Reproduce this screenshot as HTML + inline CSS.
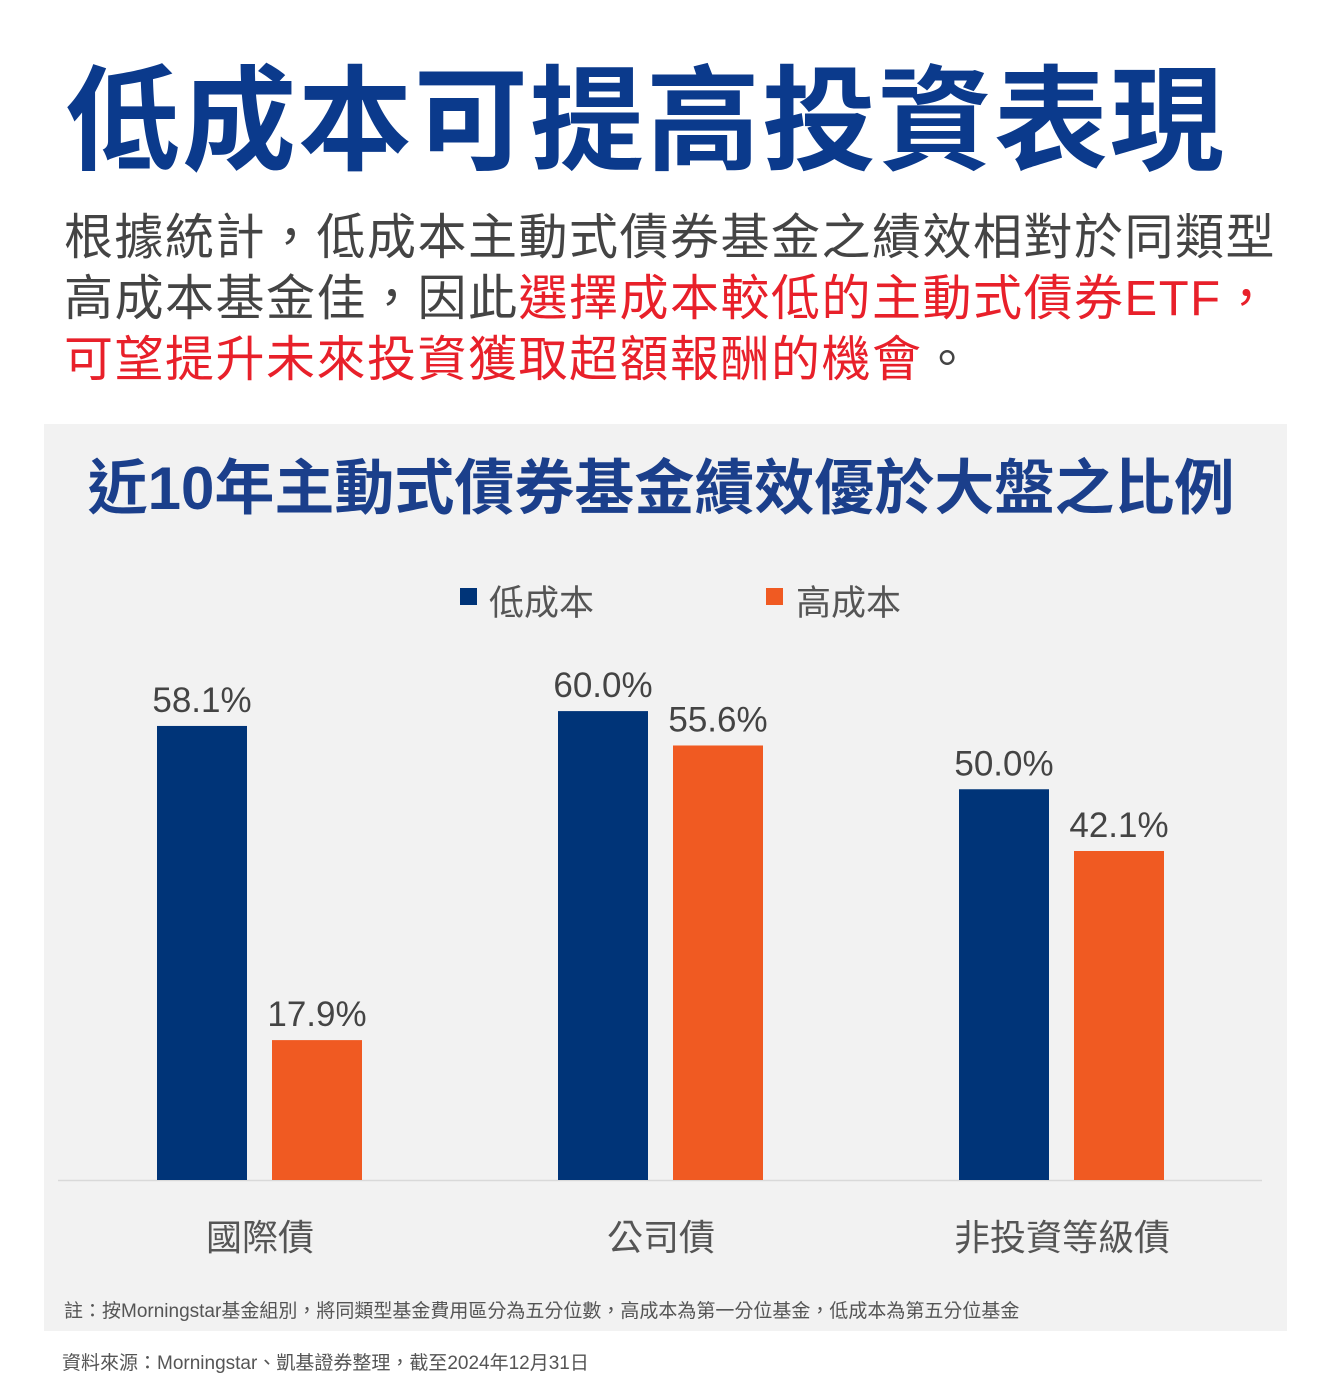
<!DOCTYPE html>
<html><head><meta charset="utf-8"><style>
html,body{margin:0;padding:0;background:#fff;width:1331px;height:1393px;overflow:hidden;font-family:"Liberation Sans","Noto Sans CJK TC",sans-serif}
.abs{position:absolute;white-space:nowrap}
</style></head><body>
<div class="abs" style="left:66px;top:58px;font-size:114px;font-weight:bold;color:#0b3a8c;letter-spacing:2px;line-height:130px">低成本可提高投資表現</div>
<div class="abs" style="left:64px;top:208px;font-size:49px;color:#444;line-height:61px;letter-spacing:1.5px">根據統計，低成本主動式債券基金之績效相對於同類型<br>高成本基金佳，因此<span style="color:#e8202a">選擇成本較低的主動式債券ETF，</span><br><span style="color:#e8202a">可望提升未來投資獲取超額報酬的機會</span>。</div>
<svg class="abs" style="left:0;top:0" width="1331" height="1393">
<rect x="44" y="424" width="1243" height="907" fill="#f2f2f2"/>
<text x="661" y="509" text-anchor="middle" font-size="60" font-weight="bold" fill="#1b3f8b">近10年主動式債券基金績效優於大盤之比例</text>
<rect x="460" y="588" width="17" height="17" fill="#003478"/>
<text x="489" y="615" font-size="35" fill="#555">低成本</text>
<rect x="766" y="588" width="17" height="17" fill="#f05a22"/>
<text x="796" y="615" font-size="35" fill="#555">高成本</text>
<line x1="58" y1="1180.5" x2="1262" y2="1180.5" stroke="#d9d9d9" stroke-width="1.5"/>
<g id="bars"></g>
<text x="64" y="1317" font-size="19" fill="#555">註：按Morningstar基金組別，將同類型基金費用區分為五分位數，高成本為第一分位基金，低成本為第五分位基金</text>
<text x="62" y="1369" font-size="19" fill="#555">資料來源：Morningstar、凱基證券整理，截至2024年12月31日</text>
</svg>
<script>
const categories=["國際債","公司債","非投資等級債"];
const lowCost=[58.1,60.0,50.0];
const highCost=[17.9,55.6,42.1];
const NS="http://www.w3.org/2000/svg";
const g=document.getElementById("bars");
const base=1180, pxPer=7.815;
function y(v){return base-v*pxPer;}
function cx(i){return 260+i*401;}
function mk(tag,attrs){const e=document.createElementNS(NS,tag);for(const k in attrs)e.setAttribute(k,attrs[k]);g.appendChild(e);return e;}
categories.forEach((c,i)=>{
  [[lowCost[i],-103,"#003478","low"],[highCost[i],12,"#f05a22","high"]].forEach(([v,off,col,s])=>{
    const r=mk("rect",{x:cx(i)+off,y:y(v),width:90,height:v*pxPer,fill:col});
    
    
    const t=mk("text",{x:cx(i)+off+45,y:y(v)-14,"text-anchor":"middle","font-size":35,fill:"#444"});
    t.textContent=v.toFixed(1)+"%";
    
    
  });
  const l=mk("text",{x:cx(i),y:1250,"text-anchor":"middle","font-size":36,fill:"#555"});
  l.textContent=c;
  
  
});
</script>
</body></html>
